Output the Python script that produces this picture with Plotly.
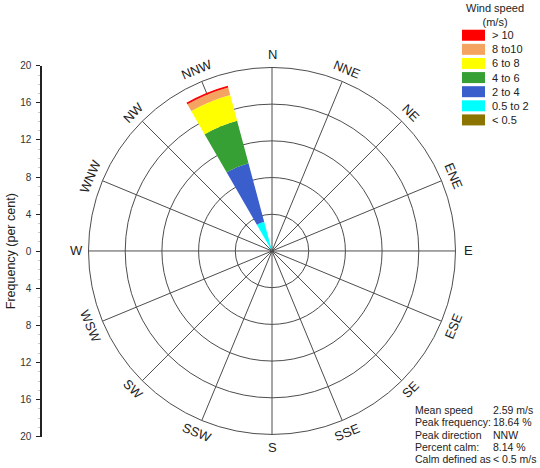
import math
import plotly.graph_objects as go

W, H = 540, 468

# ---------------- data ----------------
directions = ["N", "NNE", "NE", "ENE", "E", "ESE", "SE", "SSE",
              "S", "SSW", "SW", "WSW", "W", "WNW", "NW", "NNW"]
dir_angles = [0, 22.5, 45, 67.5, 90, 112.5, 135, 157.5,
              180, 202.5, 225, 247.5, 270, 292.5, 315, 337.5]
speed_bins = ["< 0.5", "0.5 to 2", "2 to 4", "4 to 6", "6 to 8", "8 to10", "> 10"]
bin_colors = ["#8B7500", "#00FFFF", "#3A5FCD", "#36A035", "#FFFF00", "#F4A460", "#FF0000"]
peak_dir = "NNW"
peak_dir_freq = [0.0, 3.3, 6.6, 4.8, 2.9, 0.85, 0.19]   # % per speed bin, NNW only
radial_major = [4, 8, 12, 16]
axis_ticks = [-20, -16, -12, -8, -4, 0, 4, 8, 12, 16, 20]
axis_ticktext = ["20", "16", "12", "8", "4", "0", "4", "8", "12", "16", "20"]
stat_labels = ["Mean speed", "Peak frequency:", "Peak direction", "Percent calm:", "Calm defined as"]
stat_values = ["2.59 m/s", "18.64 %", "NNW", "8.14 %", "< 0.5 m/s"]

# ---------------- layout geometry (target pixels in the final picture) ----------------
VS, VO = 0.9776, 4.3          # vertical compensation of the photographed page
cx, cy, R = 272, 250, 187.5


def px(x):
    return x / W


def py(y):
    return 1 - ((y - VO) / VS) / H


cy_l = (cy - VO) / VS           # centre in layout pixels
dom_x = [px(cx - R), px(cx + R)]
dom_y = [1 - (cy_l + R) / H, 1 - (cy_l - R) / H]
axis_dom_y = [py(435.5), py(65)]

fig = go.Figure()

for name, col, vals in zip(speed_bins, bin_colors, peak_dir_freq):
    r = [vals if d == peak_dir else 0 for d in directions]
    fig.add_trace(go.Barpolar(
        r=r, theta=dir_angles, width=15, name=name,
        marker=dict(color=col, line=dict(width=0)),
        subplot="polar2", showlegend=False))

# empty trace to carry the cartesian frequency axis
fig.add_trace(go.Scatter(x=[], y=[], xaxis="x", yaxis="y", showlegend=False))

grid_dark = "#4d4d4d"
font_family = "Liberation Sans"
txt = "#222222"

fig.update_layout(
    width=W, height=H,
    margin=dict(l=0, r=0, t=0, b=0),
    paper_bgcolor="white",
    plot_bgcolor="rgba(0,0,0,0)",
    font=dict(family=font_family, color=txt, size=11),
    polar=dict(
        domain=dict(x=dom_x, y=dom_y),
        bgcolor="white",
        radialaxis=dict(range=[0, 20], dtick=1, showticklabels=False, ticks="",
                        showline=False, gridcolor="#dcdcdc", gridwidth=1),
        angularaxis=dict(showgrid=False, showline=False, showticklabels=False, ticks="",
                         rotation=90, direction="clockwise"),
    ),
    polar2=dict(
        domain=dict(x=dom_x, y=dom_y),
        bgcolor="rgba(0,0,0,0)",
        barmode="stack",
        radialaxis=dict(range=[0, 20], tickvals=radial_major, showticklabels=False,
                        ticks="", showline=False, gridcolor=grid_dark, gridwidth=1,
                        layer="below traces"),
        angularaxis=dict(rotation=90, direction="clockwise", tickmode="array",
                         tickvals=dir_angles, showticklabels=False, ticks="",
                         showgrid=True, gridcolor=grid_dark, gridwidth=1,
                         showline=True, linecolor=grid_dark, linewidth=1,
                         layer="below traces"),
    ),
    xaxis=dict(domain=[px(42), px(60)], range=[0, 1], visible=False, fixedrange=True),
    yaxis=dict(domain=axis_dom_y, range=[-20, 20], anchor="x", side="left",
               tickmode="array", tickvals=axis_ticks, ticktext=axis_ticktext,
               ticks="outside", ticklen=4, tickcolor="#222", tickwidth=1,
               ticklabelstandoff=3,
               showline=True, linecolor="#222", linewidth=1.5,
               showgrid=False, zeroline=False,
               tickfont=dict(size=10, color="#333"),
               minor=dict(dtick=1, ticks="outside", ticklen=2.5, tickcolor="#c8c8c8"),
               title=dict(text="Frequency (per cent)", font=dict(size=12.5, color=txt),
                          standoff=2)),
)

# direction labels (tangential)
lab_r = 196
annotations = []
for d, a in zip(directions, dir_angles):
    if a in (90, 270):
        ang = 0
    elif a < 90:
        ang = a
    elif a < 270:
        ang = a - 180
    else:
        ang = a - 360
    x = cx + lab_r * math.sin(math.radians(a))
    y = cy - lab_r * math.cos(math.radians(a))
    annotations.append(dict(text=d, x=px(x), y=py(y), xref="paper", yref="paper",
                            xanchor="center", yanchor="middle", showarrow=False,
                            textangle=ang, font=dict(size=13, color=txt)))

# legend (custom boxes)
annotations.append(dict(text="Wind speed<br>(m/s)", x=px(495), y=py(14), xref="paper",
                        yref="paper", xanchor="center", yanchor="middle", showarrow=False,
                        font=dict(size=11, color=txt)))
shapes = []
for i, (name, col) in enumerate(zip(speed_bins[::-1], bin_colors[::-1])):
    top = 29 + 14.1 * i
    shapes.append(dict(type="rect", xref="paper", yref="paper",
                       x0=px(462), x1=px(485), y0=py(top + 11), y1=py(top),
                       fillcolor=col, line=dict(width=0)))
    annotations.append(dict(text=name, x=px(490), y=py(top + 5.5), xref="paper",
                            yref="paper", xanchor="left", yanchor="middle",
                            showarrow=False, font=dict(size=11, color=txt)))

# statistics block
for i, (lab, val) in enumerate(zip(stat_labels, stat_values)):
    yy = 409 + 12.3 * i
    annotations.append(dict(text=lab, x=px(413), y=py(yy), xref="paper", yref="paper",
                            xanchor="left", yanchor="middle", showarrow=False,
                            font=dict(size=10.5, color=txt)))
    annotations.append(dict(text=val, x=px(491), y=py(yy), xref="paper", yref="paper",
                            xanchor="left", yanchor="middle", showarrow=False,
                            font=dict(size=10.5, color=txt)))

fig.update_layout(annotations=annotations, shapes=shapes)

fig.write_html("out.html",
               config={"displayModeBar": False},
               post_script="document.body.style.margin='0';document.body.style.overflow='hidden';")
